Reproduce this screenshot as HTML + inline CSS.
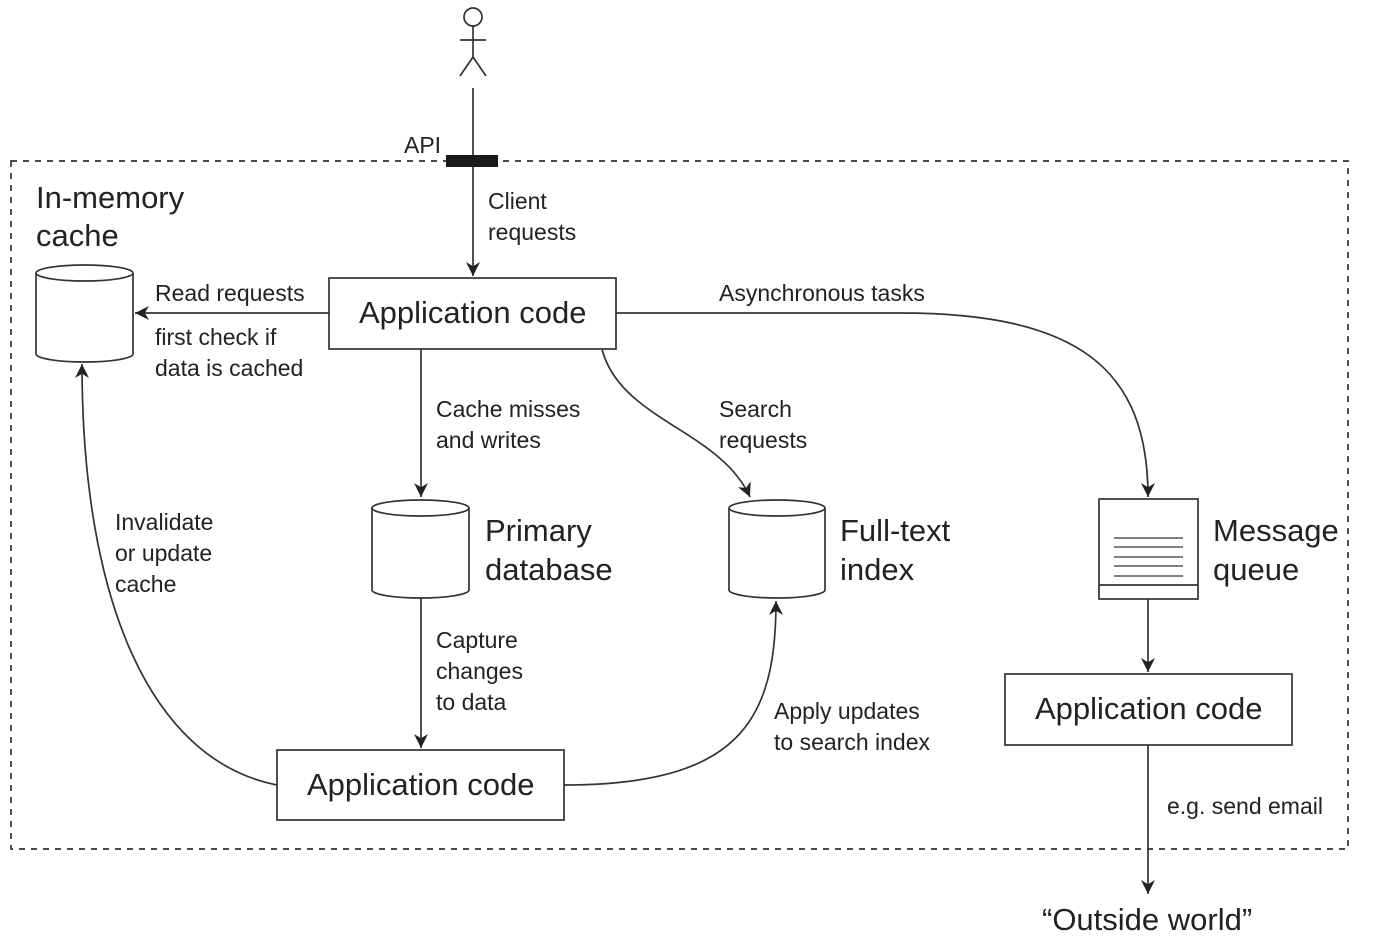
<!DOCTYPE html>
<html><head><meta charset="utf-8"><style>
html,body{margin:0;padding:0;background:#fff;}
svg{display:block;}
text{font-family:"Liberation Sans",sans-serif;fill:#222;}
.b{font-size:31px;}
.s{font-size:23px;}
</style></head><body>
<svg width="1376" height="948" viewBox="0 0 1376 948" xmlns="http://www.w3.org/2000/svg">
<defs>
<marker id="a" viewBox="0 0 10 10" refX="10" refY="5" markerWidth="14" markerHeight="14" markerUnits="userSpaceOnUse" orient="auto">
<path d="M0,0 L10,5 L0,10 L3,5 z" fill="#222"/>
</marker>
</defs>
<g stroke="#333" stroke-width="1.7" fill="none">
<rect x="11" y="161" width="1337" height="688" stroke-dasharray="6,6"/>
<circle cx="473" cy="17" r="9"/>
<line x1="473" y1="26" x2="473" y2="57"/>
<line x1="460" y1="40" x2="486" y2="40"/>
<line x1="473" y1="57" x2="460" y2="76"/>
<line x1="473" y1="57" x2="486" y2="76"/>
<line x1="473" y1="88" x2="473" y2="276" marker-end="url(#a)"/>
<rect x="329" y="278" width="287" height="71" fill="#fff"/>
<rect x="1005" y="674" width="287" height="71"/>
<rect x="277" y="750" width="287" height="70"/>
<path d="M36,273 V354 A48.5,8 0 0 0 133,354 V273"/><ellipse cx="84.5" cy="273" rx="48.5" ry="8"/>
<path d="M372,508 V590 A48.5,8 0 0 0 469,590 V508"/><ellipse cx="420.5" cy="508" rx="48.5" ry="8"/>
<path d="M729,508 V590 A48,8 0 0 0 825,590 V508"/><ellipse cx="777" cy="508" rx="48" ry="8"/>
<rect x="1099" y="499" width="99" height="100"/>
<line x1="1099" y1="585" x2="1198" y2="585"/>
<g stroke-width="1.3"><line x1="1114" y1="538" x2="1183" y2="538"/><line x1="1114" y1="547" x2="1183" y2="547"/><line x1="1114" y1="557" x2="1183" y2="557"/><line x1="1114" y1="566" x2="1183" y2="566"/><line x1="1114" y1="576" x2="1183" y2="576"/></g>
<line x1="329" y1="313" x2="135" y2="313" marker-end="url(#a)"/>
<line x1="421" y1="349" x2="421" y2="497" marker-end="url(#a)"/>
<line x1="421" y1="598" x2="421" y2="748" marker-end="url(#a)"/>
<path d="M602,349 C620,420 720,430 750,497" marker-end="url(#a)"/>
<path d="M616,313 L900,313 C1080,313 1148,370 1148,497" marker-end="url(#a)"/>
<path d="M277,785 C150,760 82,600 82,364" marker-end="url(#a)"/>
<path d="M564,785 C740,785 776,720 776,601" marker-end="url(#a)"/>
<line x1="1148" y1="599" x2="1148" y2="672" marker-end="url(#a)"/>
<line x1="1148" y1="745" x2="1148" y2="894" marker-end="url(#a)"/>
</g>
<rect x="446" y="155" width="52" height="12" fill="#1a1a1a"/>
<text class="s" x="404" y="153">API</text>
<text class="s" x="488" y="209">Client</text>
<text class="s" x="488" y="240">requests</text>
<text class="b" x="36" y="208">In-memory</text>
<text class="b" x="36" y="246">cache</text>
<text class="s" x="155" y="301">Read requests</text>
<text class="s" x="155" y="345">first check if</text>
<text class="s" x="155" y="376">data is cached</text>
<text class="b" x="359" y="323">Application code</text>
<text class="s" x="719" y="301">Asynchronous tasks</text>
<text class="s" x="436" y="417">Cache misses</text>
<text class="s" x="436" y="448">and writes</text>
<text class="s" x="719" y="417">Search</text>
<text class="s" x="719" y="448">requests</text>
<text class="s" x="115" y="530">Invalidate</text>
<text class="s" x="115" y="561">or update</text>
<text class="s" x="115" y="592">cache</text>
<text class="b" x="485" y="541">Primary</text>
<text class="b" x="485" y="580">database</text>
<text class="b" x="840" y="541">Full-text</text>
<text class="b" x="840" y="580">index</text>
<text class="b" x="1213" y="541">Message</text>
<text class="b" x="1213" y="580">queue</text>
<text class="s" x="436" y="648">Capture</text>
<text class="s" x="436" y="679">changes</text>
<text class="s" x="436" y="710">to data</text>
<text class="s" x="774" y="719">Apply updates</text>
<text class="s" x="774" y="750">to search index</text>
<text class="b" x="1035" y="719">Application code</text>
<text class="b" x="307" y="795">Application code</text>
<text class="s" x="1167" y="814">e.g. send email</text>
<text class="b" x="1042" y="930">“Outside world”</text>
</svg>
</body></html>
